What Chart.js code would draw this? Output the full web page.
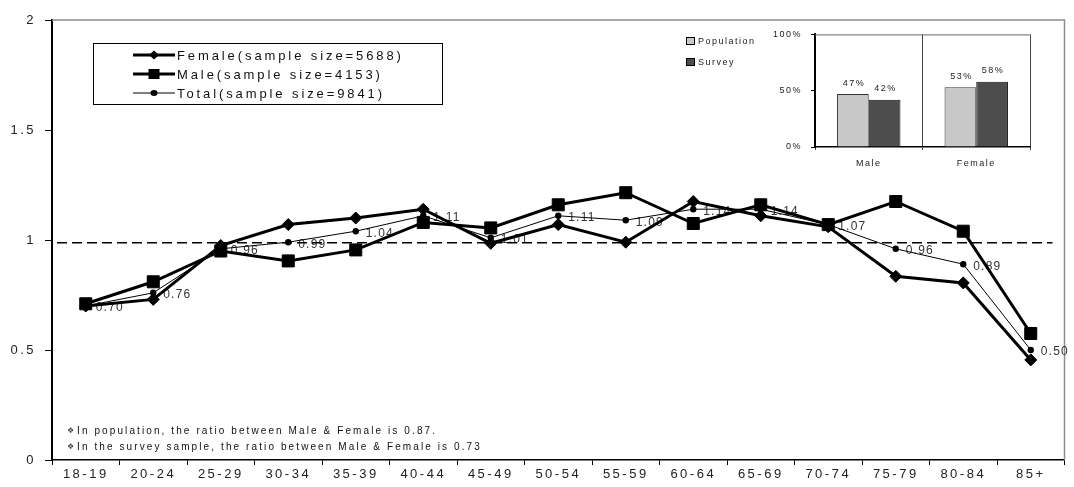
<!DOCTYPE html>
<html>
<head>
<meta charset="utf-8">
<script src="https://cdn.jsdelivr.net/npm/chart.js@4"></script>
<style>
  body { margin: 0; background: #fff; }
  #wrap { position: relative; width: 1074px; height: 487px; }
  #main { position: absolute; left: 0; top: 0; }
  #inset { position: absolute; left: 660px; top: 20px; }
</style>
</head>
<body>
<div id="wrap">
  <canvas id="main" width="1074" height="487"></canvas>
  <canvas id="inset" width="408" height="160"></canvas>
</div>
<script>
const ageGroups = ['18-19', '20-24', '25-29', '30-34', '35-39', '40-44', '45-49', '50-54',
  '55-59', '60-64', '65-69', '70-74', '75-79', '80-84', '85+'];
const femaleRatio = [0.70, 0.73, 0.975, 1.07, 1.10, 1.14, 0.985, 1.07, 0.99, 1.175, 1.11, 1.06, 0.835, 0.805, 0.455];
const maleRatio = [0.71, 0.81, 0.95, 0.905, 0.955, 1.08, 1.055, 1.16, 1.215, 1.075, 1.16, 1.07, 1.175, 1.04, 0.575];
const totalRatio = [0.70, 0.76, 0.96, 0.99, 1.04, 1.11, 1.01, 1.11, 1.09, 1.14, 1.14, 1.07, 0.96, 0.89, 0.50];
const refLine = 0.987;
const yTicks = [0, 0.5, 1, 1.5, 2];

const seriesNames = ['Female(sample size=5688)', 'Male(sample size=4153)', 'Total(sample size=9841)'];
const notes = [
  'In population, the ratio between Male & Female is 0.87.',
  'In the survey sample, the ratio between Male & Female is 0.73'
];

const genders = ['Male', 'Female'];
const populationShare = [0.47, 0.53];
const surveyShare = [0.42, 0.58];
const shareNames = ['Population', 'Survey'];

const FONT = '"Liberation Sans", Arial, sans-serif';

// legend marker helper
function marker(ctx, kind, x, y) {
  ctx.fillStyle = '#000';
  ctx.beginPath();
  if (kind === 'diamond') {
    ctx.moveTo(x - 5, y); ctx.lineTo(x, y - 4.5); ctx.lineTo(x + 5, y); ctx.lineTo(x, y + 4.5);
  } else if (kind === 'square') {
    ctx.rect(x - 5.5, y - 5, 11, 10);
  } else {
    ctx.ellipse(x, y, 3.5, 3, 0, 0, Math.PI * 2);
  }
  ctx.fill();
}

const mainDecor = {
  id: 'mainDecor',
  beforeDraw(chart) {
    chart.ctx.letterSpacing = '2.5px';
  },
  beforeDatasetsDraw(chart) {
    const { ctx, chartArea: a, scales: { y } } = chart;
    ctx.save();
    // plot frame (top, right)
    ctx.strokeStyle = '#8c8c8c';
    ctx.lineWidth = 1.5;
    ctx.beginPath();
    ctx.moveTo(a.left, a.top);
    ctx.lineTo(a.right, a.top);
    ctx.lineTo(a.right, a.bottom);
    ctx.stroke();

    // total labels
    ctx.letterSpacing = '1.2px';
    ctx.font = '12px ' + FONT;
    ctx.fillStyle = '#333';
    ctx.textAlign = 'left';
    ctx.textBaseline = 'middle';
    chart.getDatasetMeta(2).data.forEach((pt, i) => {
      ctx.fillText(totalRatio[i].toFixed(2), pt.x + 10, pt.y + 2);
    });

    // reference dashed line
    const yy = y.getPixelForValue(refLine);
    ctx.setLineDash([10, 5]);
    ctx.strokeStyle = '#000';
    ctx.lineWidth = 1.5;
    ctx.beginPath();
    ctx.moveTo(a.left + 5, yy);
    ctx.lineTo(a.right - 12, yy);
    ctx.stroke();
    ctx.restore();
  },
  afterDraw(chart) {
    const ctx = chart.ctx;
    ctx.save();
    // legend box
    ctx.strokeStyle = '#000';
    ctx.lineWidth = 1;
    ctx.strokeRect(93.5, 43.5, 349, 61);
    const kinds = ['diamond', 'square', 'dot'];
    const widths = [3, 3, 1];
    ctx.font = '13px ' + FONT;
    ctx.letterSpacing = '2.9px';
    ctx.textBaseline = 'middle';
    ctx.textAlign = 'left';
    seriesNames.forEach((name, i) => {
      const ry = 55 + i * 19;
      ctx.strokeStyle = '#000';
      ctx.lineWidth = widths[i];
      ctx.beginPath();
      ctx.moveTo(133, ry);
      ctx.lineTo(175, ry);
      ctx.stroke();
      marker(ctx, kinds[i], 154, ry);
      ctx.fillStyle = '#111';
      ctx.fillText(name, 177, ry + 1);
    });

    // notes
    notes.forEach((t, i) => {
      const ry = 431 + i * 16;
      ctx.fillStyle = '#444';
      ctx.font = '8px "DejaVu Sans"';
      ctx.letterSpacing = '0px';
      ctx.fillText('\u2756', 67, ry);
      ctx.fillStyle = '#111';
      ctx.font = '10px ' + FONT;
      ctx.letterSpacing = '2.1px';
      ctx.fillText(t, 77, ry);
    });
    ctx.restore();
  }
};

new Chart(document.getElementById('main'), {
  type: 'line',
  data: {
    labels: ageGroups,
    datasets: [{
      label: seriesNames[0],
      data: femaleRatio,
      borderColor: '#000',
      backgroundColor: '#000',
      borderWidth: 3,
      pointStyle: 'rectRot',
      pointRadius: 6,
      pointBorderWidth: 1,
      order: 1
    }, {
      label: seriesNames[1],
      data: maleRatio,
      borderColor: '#000',
      backgroundColor: '#000',
      borderWidth: 3,
      pointStyle: 'rect',
      pointRadius: 8.5,
      pointBorderWidth: 1,
      order: 2
    }, {
      label: seriesNames[2],
      data: totalRatio,
      borderColor: '#000',
      backgroundColor: '#000',
      borderWidth: 1,
      pointStyle: 'circle',
      pointRadius: 3.2,
      pointBorderWidth: 0,
      order: 0
    }]
  },
  options: {
    responsive: false,
    animation: false,
    events: [],
    layout: { padding: { top: 20, right: 6, left: 0, bottom: 0 } },
    plugins: { legend: { display: false }, tooltip: { enabled: false } },
    scales: {
      x: {
        offset: true,
        grid: { offset: true, drawOnChartArea: false, tickLength: 5, color: '#000', lineWidth: 1 },
        border: { color: '#000', width: 1.5 },
        ticks: { color: '#222', font: { family: FONT, size: 13 }, padding: 2, autoSkip: false, maxRotation: 0 },
        afterFit(s) { s.height = 27; }
      },
      y: {
        min: 0,
        max: 2,
        afterBuildTicks(s) { s.ticks = yTicks.map(v => ({ value: v })); },
        grid: { drawOnChartArea: false, tickLength: 7, color: '#000', lineWidth: 1 },
        border: { color: '#000', width: 2 },
        ticks: { color: '#222', font: { family: FONT, size: 13 }, padding: 9, callback: v => String(v) },
        afterFit(s) { s.width = 52; }
      }
    }
  },
  plugins: [mainDecor]
});

const insetDecor = {
  id: 'insetDecor',
  beforeDraw(chart) {
    chart.ctx.letterSpacing = '1.5px';
  },
  afterDraw(chart) {
    const { ctx, chartArea: a } = chart;
    ctx.save();
    ctx.strokeStyle = '#666';
    ctx.lineWidth = 1;
    ctx.beginPath();
    ctx.moveTo(a.left, a.top + 0.5);
    ctx.lineTo(a.right, a.top + 0.5);
    ctx.stroke();

    ctx.font = '9px ' + FONT;
    ctx.letterSpacing = '1.5px';
    ctx.fillStyle = '#222';
    ctx.textAlign = 'center';
    ctx.textBaseline = 'middle';
    [populationShare, surveyShare].forEach((vals, d) => {
      chart.getDatasetMeta(d).data.forEach((bar, i) => {
        ctx.fillText(Math.round(vals[i] * 100) + '%', bar.x + 1, bar.y - 11);
      });
    });

    // legend
    const fills = ['#c8c8c8', '#4d4d4d'];
    ctx.textAlign = 'left';
    shareNames.forEach((n, i) => {
      const ry = 21 + i * 21;
      ctx.fillStyle = fills[i];
      ctx.fillRect(26.5, ry - 3.5, 8, 7);
      ctx.strokeStyle = '#000';
      ctx.lineWidth = 1;
      ctx.strokeRect(26.5, ry - 3.5, 8, 7);
      ctx.fillStyle = '#222';
      ctx.fillText(n, 38, ry + 0.5);
    });
    ctx.restore();
  }
};

new Chart(document.getElementById('inset'), {
  type: 'bar',
  data: {
    labels: genders,
    datasets: [{
      label: shareNames[0],
      data: populationShare,
      backgroundColor: '#c8c8c8',
      borderColor: '#333',
      borderWidth: 1,
      categoryPercentage: 0.59,
      barPercentage: 1
    }, {
      label: shareNames[1],
      data: surveyShare,
      backgroundColor: '#4d4d4d',
      borderColor: '#111',
      borderWidth: 1,
      categoryPercentage: 0.59,
      barPercentage: 1
    }]
  },
  options: {
    responsive: false,
    animation: false,
    events: [],
    layout: { padding: { top: 10, right: 38, left: 0, bottom: 0 } },
    plugins: { legend: { display: false }, tooltip: { enabled: false } },
    scales: {
      x: {
        grid: { offset: true, drawOnChartArea: true, tickLength: 3, color: '#444', lineWidth: 1 },
        border: { color: '#000', width: 1.5 },
        ticks: { color: '#222', font: { family: FONT, size: 9 }, padding: 8 },
        afterFit(s) { s.height = 33; }
      },
      y: {
        min: 0,
        max: 1,
        afterBuildTicks(s) { s.ticks = [0, 0.5, 1].map(v => ({ value: v })); },
        grid: { drawOnChartArea: false, tickLength: 4, color: '#000', lineWidth: 1 },
        border: { color: '#000', width: 2 },
        ticks: { color: '#222', font: { family: FONT, size: 9 }, padding: 9, callback: v => Math.round(v * 100) + '%' },
        afterFit(s) { s.width = 155; }
      }
    }
  },
  plugins: [insetDecor]
});
</script>
</body>
</html>
